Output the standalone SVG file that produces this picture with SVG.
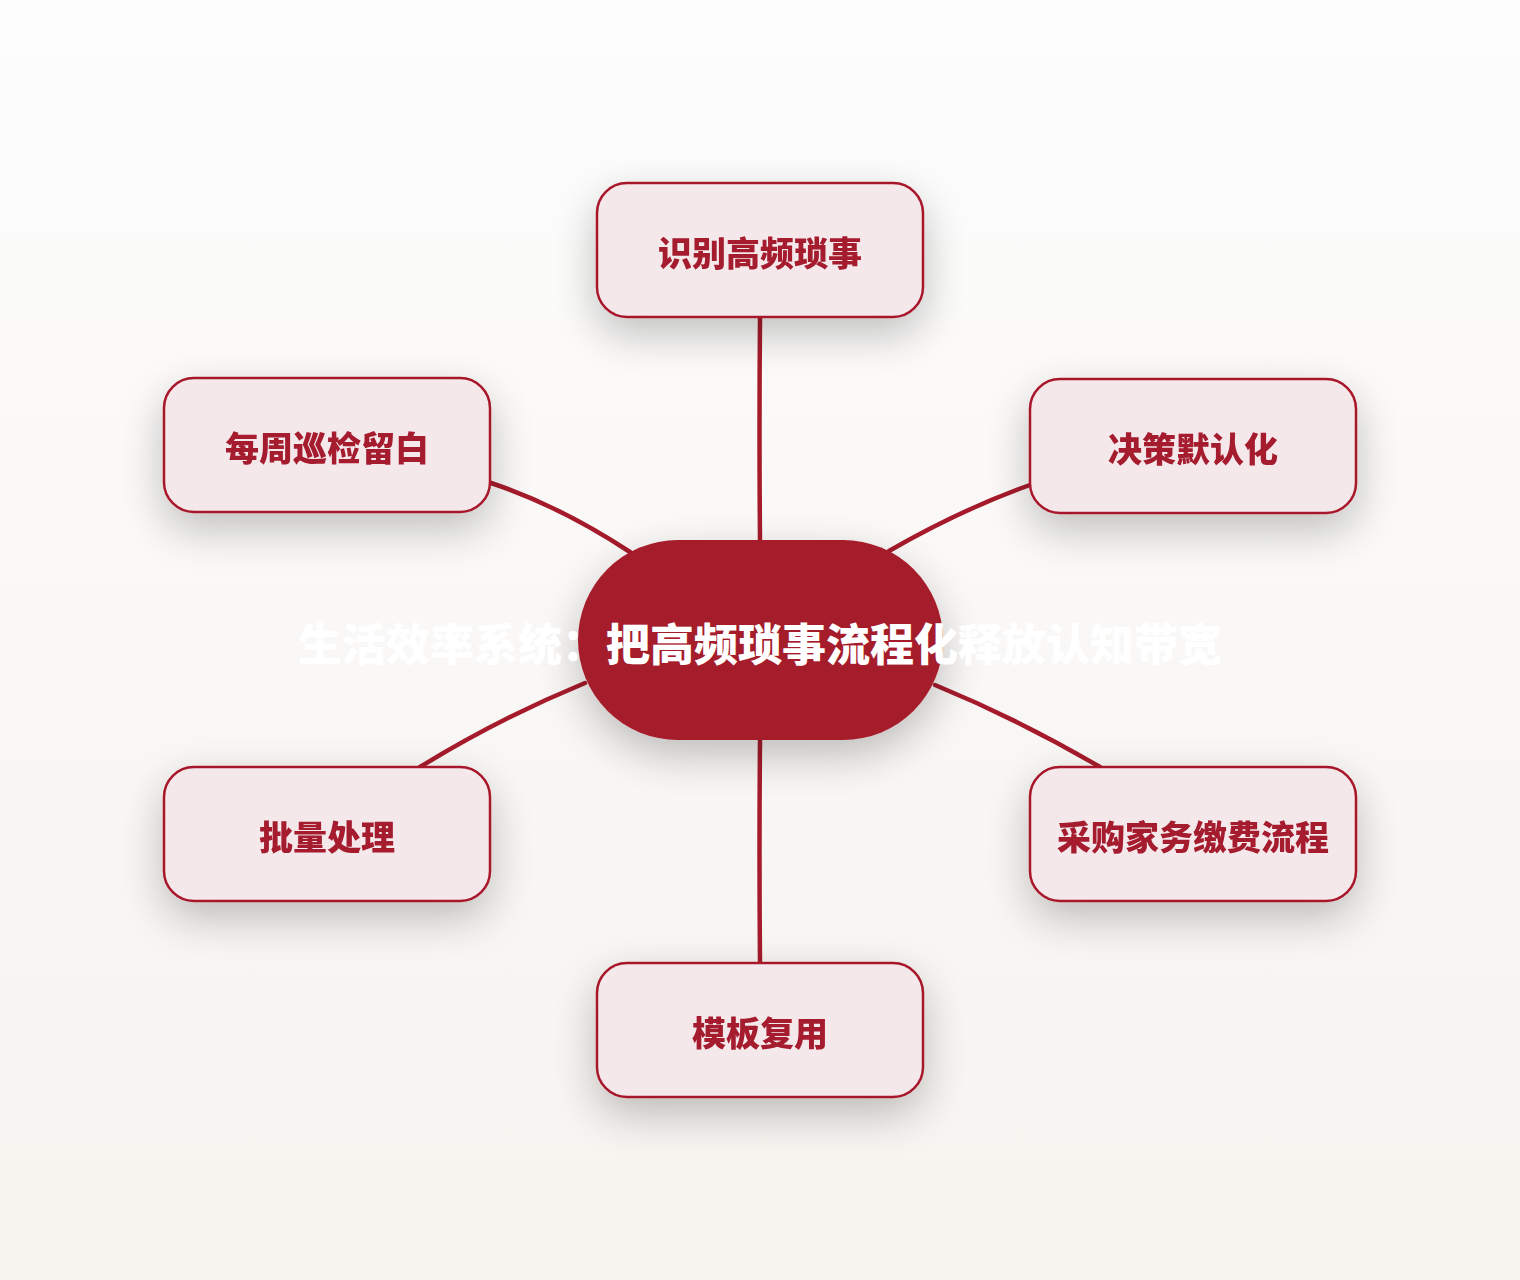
<svg xmlns="http://www.w3.org/2000/svg" width="1520" height="1280" viewBox="0 0 1520 1280">
<defs>
<linearGradient id="bg" x1="0" y1="0" x2="0" y2="1">
<stop offset="0" stop-color="#fdfdfd"/>
<stop offset="1" stop-color="#f6f3ef"/>
</linearGradient>
<filter id="sh" x="-50%" y="-60%" width="200%" height="240%">
<feGaussianBlur in="SourceAlpha" stdDeviation="22"/>
<feOffset dx="0" dy="16" result="b"/>
<feComponentTransfer><feFuncA type="linear" slope="0.24"/></feComponentTransfer>
<feMerge><feMergeNode/><feMergeNode in="SourceGraphic"/></feMerge>
</filter>
<style>
.box{fill:#f4e8eb;stroke:#a8192b;stroke-width:2.5}
.lbl{font-family:"Noto Sans CJK SC","Noto Sans CJK JP",sans-serif;font-weight:900;font-size:34px;fill:#a51b2e;text-anchor:middle;dominant-baseline:central}
.hub{fill:#a51b2b}
.hubt{font-family:"Noto Sans CJK SC","Noto Sans CJK JP",sans-serif;font-weight:900;font-size:44px;fill:#ffffff;text-anchor:middle;dominant-baseline:central}
.con{fill:none;stroke:#a51b2b;stroke-width:4.5;stroke-linecap:round}
</style>
</defs>
<rect width="1520" height="1280" fill="url(#bg)"/>
<g id="connectors">
<path class="con" d="M760,318 Q759,430 760,540"/>
<path class="con" d="M760,741 Q759,850 760,963"/>
<path class="con" d="M491,483 Q560,506 630,552"/>
<path class="con" d="M1030,485 Q960,510 889,551"/>
<path class="con" d="M585,683 Q500,718 420,767"/>
<path class="con" d="M935,685 Q1020,720 1100,767"/>
</g>
<g id="node-center" filter="url(#sh)">
<rect class="hub" x="578" y="540" width="365" height="200" rx="100"/>
</g>
<g id="node-center-label">
<text class="hubt" x="760" y="642">生活效率系统：把高频琐事流程化释放认知带宽</text>
</g>
<g id="node-top" filter="url(#sh)">
<rect class="box" x="597" y="183" width="326" height="134" rx="30"/>
<text class="lbl" x="760" y="251">识别高频琐事</text>
</g>
<g id="node-ul" filter="url(#sh)">
<rect class="box" x="164" y="378" width="326" height="134" rx="30"/>
<text class="lbl" x="327" y="446">每周巡检留白</text>
</g>
<g id="node-ur" filter="url(#sh)">
<rect class="box" x="1030" y="379" width="326" height="134" rx="30"/>
<text class="lbl" x="1193" y="447">决策默认化</text>
</g>
<g id="node-ll" filter="url(#sh)">
<rect class="box" x="164" y="767" width="326" height="134" rx="30"/>
<text class="lbl" x="327" y="835">批量处理</text>
</g>
<g id="node-lr" filter="url(#sh)">
<rect class="box" x="1030" y="767" width="326" height="134" rx="30"/>
<text class="lbl" x="1193" y="835">采购家务缴费流程</text>
</g>
<g id="node-bottom" filter="url(#sh)">
<rect class="box" x="597" y="963" width="326" height="134" rx="30"/>
<text class="lbl" x="760" y="1031">模板复用</text>
</g>
</svg>
